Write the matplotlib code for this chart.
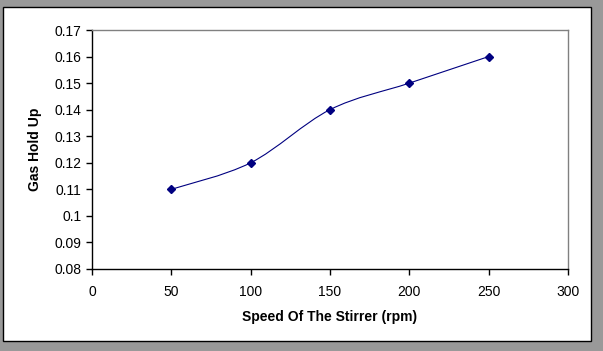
import numpy as np
import matplotlib.pyplot as plt
from matplotlib.path import Path
from matplotlib.patches import PathPatch, Rectangle

plt.rcParams['font.family'] = ['Liberation Sans', 'DejaVu Sans']

speed = [50, 100, 150, 200, 250]
holdup = [0.11, 0.12, 0.14, 0.15, 0.16]
xticks = [0, 50, 100, 150, 200, 250, 300]
yticks = [0.08, 0.09, 0.1, 0.11, 0.12, 0.13, 0.14, 0.15, 0.16, 0.17]
yticklabels = ['0.08', '0.09', '0.1', '0.11', '0.12', '0.13', '0.14', '0.15', '0.16', '0.17']

W, H = 603, 351
fig = plt.figure(figsize=(W / 100, H / 100), dpi=100)
fig.patch.set_facecolor('#999999')

# white chart area with black border
fig.patches.append(Rectangle((3 / W, 1 - 341 / H), 588 / W, 334 / H,
                             transform=fig.transFigure, facecolor='white',
                             edgecolor='black', linewidth=1.0, zorder=-1))

ax = fig.add_axes([92 / W, 1 - 269 / H, (568 - 92) / W, (269 - 30) / H])
ax.set_facecolor('white')
ax.set_xlim(0, 300)
ax.set_ylim(0.08, 0.17)

# smoothed line (cubic bezier through the points, Excel style)
px = np.array(speed, dtype=float)
py = np.array(holdup, dtype=float)
pts = np.column_stack([px, py])
n = len(pts)
verts = [pts[0]]
codes = [Path.MOVETO]
for i in range(n - 1):
    p0 = pts[i - 1] if i > 0 else pts[i]
    p1 = pts[i]
    p2 = pts[i + 1]
    p3 = pts[i + 2] if i + 2 < n else pts[i + 1]
    c1 = p1 + (p2 - p0) / 6.0
    c2 = p2 - (p3 - p1) / 6.0
    verts += [c1, c2, p2]
    codes += [Path.CURVE4] * 3
ax.add_patch(PathPatch(Path(verts, codes), facecolor='none',
                       edgecolor='#000080', linewidth=0.8))
ax.plot(speed, holdup, linestyle='none', marker='D', markersize=4.5,
        color='#000080')

ax.set_xticks(xticks)
ax.set_yticks(yticks)
ax.set_yticklabels(yticklabels)
ax.tick_params(direction='out', length=4.5, width=1, colors='black',
               labelsize=10)
ax.tick_params(axis='x', pad=7)
ax.tick_params(axis='y', pad=3)

for s in ['left', 'bottom']:
    ax.spines[s].set_color('black')
    ax.spines[s].set_linewidth(1.0)
for s in ['top', 'right']:
    ax.spines[s].set_color('#808080')
    ax.spines[s].set_linewidth(1.0)

ax.set_xlabel('Speed Of The Stirrer (rpm)', fontsize=10, fontweight='bold',
              labelpad=8)
ax.set_ylabel('Gas Hold Up', fontsize=10, fontweight='bold', labelpad=9)

fig.savefig('out.png', dpi=100, facecolor=fig.get_facecolor())
